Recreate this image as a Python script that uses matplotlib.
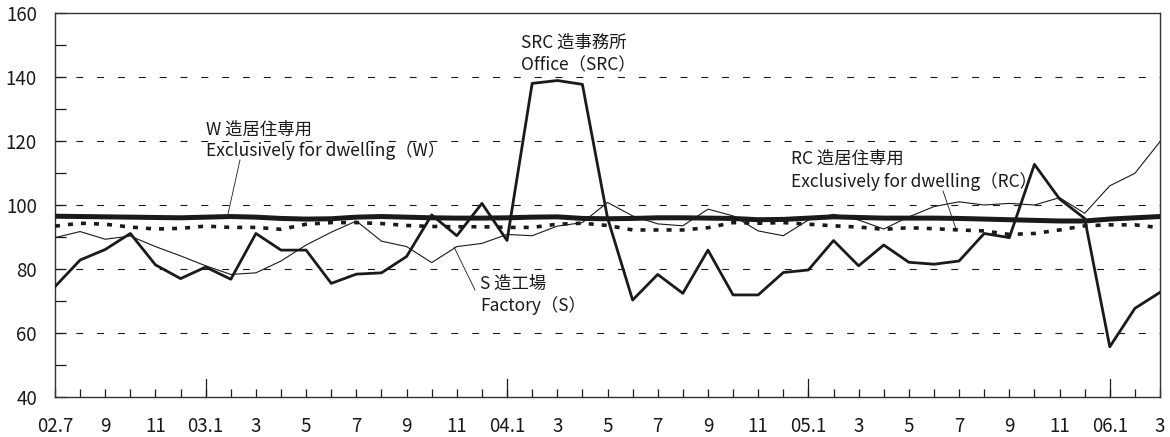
import matplotlib
matplotlib.use("Agg")
import matplotlib.pyplot as plt
import numpy as np

plt.rcParams['font.family'] = ['Noto Sans CJK JP', 'DejaVu Sans']
plt.rcParams['lines.scale_dashes'] = False

months = ['02.7', '8', '9', '10', '11', '12',
          '03.1', '2', '3', '4', '5', '6', '7', '8', '9', '10', '11', '12',
          '04.1', '2', '3', '4', '5', '6', '7', '8', '9', '10', '11', '12',
          '05.1', '2', '3', '4', '5', '6', '7', '8', '9', '10', '11', '12',
          '06.1', '2', '3']

w_dwelling = [96.5, 96.4, 96.3, 96.2, 96.1, 96.0, 96.2, 96.4, 96.2, 95.8,
              95.6, 95.7, 96.2, 96.4, 96.2, 96.0, 95.9, 95.9, 96.0, 96.2,
              96.3, 95.8, 95.7, 95.8, 96.0, 96.0, 95.9, 95.8, 95.4, 95.5,
              95.9, 96.3, 96.1, 95.9, 95.9, 95.9, 95.8, 95.6, 95.4, 95.2,
              95.0, 95.0, 95.6, 96.0, 96.4]

rc_dwelling = [93.4, 94.3, 94.0, 93.1, 92.5, 92.7, 93.4, 93.0, 93.0, 92.4,
               94.0, 94.5, 94.5, 94.2, 93.6, 93.3, 93.2, 93.2, 93.0, 93.0,
               94.0, 94.3, 93.6, 92.2, 92.2, 92.2, 92.9, 94.5, 94.3, 94.5,
               94.0, 93.5, 93.1, 92.4, 92.9, 92.6, 92.2, 91.9, 90.8, 91.1,
               92.2, 93.5, 93.8, 93.8, 92.9]

s_factory = [89.8, 91.7, 89.3, 90.3, 87.0, 84.1, 81.0, 78.3, 78.8, 82.5,
             87.5, 91.5, 95.0, 88.7, 87.0, 82.0, 87.0, 88.0, 90.8, 90.4,
             93.4, 94.5, 100.8, 96.6, 94.1, 93.5, 98.7, 96.6, 91.9, 90.4,
             95.3, 97.1, 95.3, 92.5, 96.3, 99.5, 101.0, 100.0, 100.5, 100.0,
             102.3, 97.4, 106.0, 109.9, 119.8]

src_office = [74.5, 82.8, 86.1, 91.1, 81.3, 77.0, 80.6, 76.8, 91.1, 85.9,
              85.9, 75.5, 78.4, 78.8, 83.9, 96.9, 90.4, 100.5, 88.9, 138.0,
              138.9, 137.7, 96.0, 70.3, 78.3, 72.4, 85.9, 71.9, 71.9, 78.9,
              79.7, 88.9, 81.0, 87.5, 82.1, 81.5, 82.5, 91.1, 89.8, 112.7,
              101.9, 95.8, 55.7, 67.7, 72.7]

x = np.arange(len(months))
ink = '#1a1a1a'

fig = plt.figure(figsize=(11.7, 4.37), dpi=100)
ax = fig.add_axes([55/1170, 1-397/437, 1105/1170, 384/437])

ax.set_xlim(0, len(months)-1)
ax.set_ylim(40, 160)

for yv in [60, 80, 100, 120, 140]:
    ax.axhline(yv, color=ink, lw=0.8, linestyle=(0, (5, 10)), zorder=1)

ax.plot(x, s_factory, color=ink, lw=0.8, zorder=3)
ax.plot(x, rc_dwelling, color=ink, lw=2.6, linestyle=(0, (3.6, 5.8)), zorder=3)
ax.plot(x, src_office, color=ink, lw=2.0, zorder=4)
ax.plot(x, w_dwelling, color=ink, lw=3.6, zorder=5)

# ticks
ax.set_yticks(np.arange(40, 161, 20))
ax.set_yticks(np.arange(50, 160, 20), minor=True)
ax.tick_params(axis='y', which='both', direction='in', length=8, width=0.9,
               color=ink, labelsize=13.5, pad=13, labelcolor=ink)
lab_idx = list(range(0, len(months), 2))
ax.set_xticks(lab_idx)
ax.set_xticklabels([months[i] for i in lab_idx])
ax.set_xticks([i for i in x if i not in lab_idx], minor=True)
ax.tick_params(axis='x', which='both', direction='in', length=6, width=0.9,
               color=ink, labelsize=13.5, pad=14, labelcolor=ink)
# longer ticks at January
for i, m in enumerate(months):
    if '.' in m and i != 0:
        ax.plot([i, i], [40, 40 + 18/3.2], color=ink, lw=0.9, zorder=2, clip_on=False)

for sp in ax.spines.values():
    sp.set_color('#333333')
    sp.set_linewidth(1.0)

# annotations
def px2data(px, py):
    xd = (px - 55) / (1105/44)
    yd = 40 + (397 - py) / 3.2
    return xd, yd

fs = 12.5
tx, ty = px2data(206, 130)
ax.text(tx, ty, 'W 造居住専用', fontsize=fs, ha='left', va='center', color=ink)
tx, ty = px2data(206, 151)
ax.text(tx, ty, 'Exclusively for dwelling（W）', fontsize=fs, ha='left', va='center', color=ink)
ax.plot(*zip(px2data(240, 160), px2data(228, 214)), color=ink, lw=0.6, zorder=6)

tx, ty = px2data(521, 43)
ax.text(tx, ty, 'SRC 造事務所', fontsize=fs, ha='left', va='center', color=ink)
tx, ty = px2data(521, 65)
ax.text(tx, ty, 'Office（SRC）', fontsize=fs, ha='left', va='center', color=ink)

tx, ty = px2data(480, 284)
ax.text(tx, ty, 'S 造工場', fontsize=fs, ha='left', va='center', color=ink)
tx, ty = px2data(480, 306)
ax.text(tx, ty, 'Factory（S）', fontsize=fs, ha='left', va='center', color=ink)
ax.plot(*zip(px2data(475, 290), px2data(454, 247)), color=ink, lw=0.6, zorder=6)

tx, ty = px2data(791, 159)
ax.text(tx, ty, 'RC 造居住専用', fontsize=fs, ha='left', va='center', color=ink)
tx, ty = px2data(791, 182)
ax.text(tx, ty, 'Exclusively for dwelling（RC）', fontsize=fs, ha='left', va='center', color=ink)
ax.plot(*zip(px2data(943, 191), px2data(956, 229)), color=ink, lw=0.6, zorder=6)

fig.savefig('out.png', dpi=100)
